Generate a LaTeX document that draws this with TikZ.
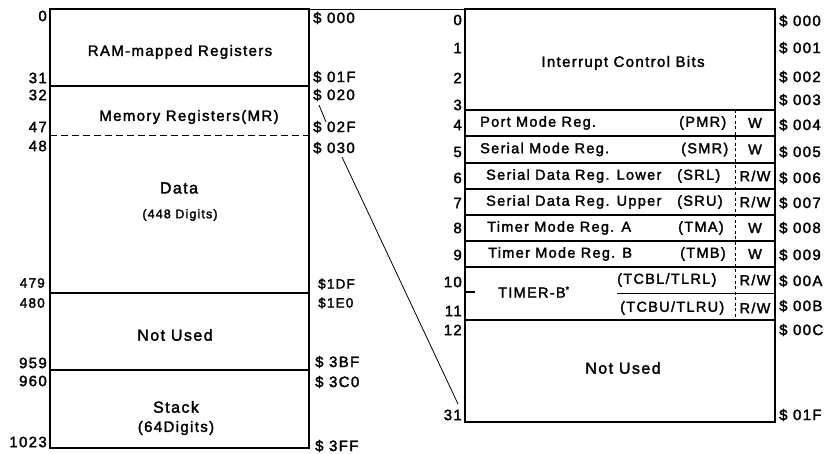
\documentclass[tikz,border=0pt]{standalone}
\usepackage{fontspec}
\setmainfont{Liberation Sans}[LetterSpace=9,FakeBold=2]
\begin{document}
\begin{tikzpicture}[x=1pt,y=-1pt,
  box/.style={line width=2pt},
  sep/.style={line width=2pt},
  conn/.style={line width=0.8pt},
  txt/.style={inner sep=0pt,font=\fontsize{15}{15}\selectfont},
  small/.style={inner sep=0pt,font=\fontsize{12.5}{13}\selectfont},
  idx/.style={txt,anchor=east},
  adr/.style={txt,anchor=west},
  rowlab/.style={inner sep=0pt,font=\fontsize{14.5}{15}\selectfont,anchor=west},
  acc/.style={inner sep=0pt,font=\fontsize{14.5}{15}\selectfont}]
\useasboundingbox (0,0) rectangle (832,454);
% ---------- left box ----------
\coordinate (LTL) at (50,9.5);
\coordinate (LTR) at (309,9.5);
\coordinate (LBR) at (309,448);
\draw[box] (LTL) rectangle (LBR);
\draw[sep] (50,86.5) -- (309,86.5);
\draw[line width=1.4pt,dash pattern=on 7pt off 4pt] (50,135.5) -- (309,135.5);
\draw[sep] (50,293) -- (309,293);
\draw[sep] (50,369.5) -- (309,369.5);
\node[txt] (ram) at (180,52) {RAM-mapped Registers};
\node[txt] (mr) at (189,117) {Memory Registers(MR)};
\node[txt,font=\fontsize{16}{16}\selectfont] (data) at (179,188) {Data};
\node[small] (d448) at (180,215) {(448 Digits)};
\node[txt,font=\fontsize{16}{16}\selectfont] (nu1) at (175,335) {Not Used};
\node[txt,font=\fontsize{16}{16}\selectfont] (stk) at (176,407) {Stack};
\node[txt] (d64) at (176,428) {(64Digits)};
% left indices
\node[idx] (l0) at (47,16) {0};
\node[idx] (l31) at (47,78) {31};
\node[idx] (l32) at (47,95) {32};
\node[idx] (l47) at (47,127) {47};
\node[idx] (l48) at (47,146) {48};
\node[idx,font=\fontsize{13.5}{14}\selectfont] (l479) at (45,283) {479};
\node[idx,font=\fontsize{13.5}{14}\selectfont] (l480) at (45,303) {480};
\node[idx] (l959) at (47,363) {959};
\node[idx] (l960) at (47,381) {960};
\node[idx] (l1023) at (47,442) {1023};
% left addresses
\node[adr] (a000) at (313,18) {\$ 000};
\node[adr] (a01F) at (313,77) {\$ 01F};
\node[adr] (a020) at (313,95) {\$ 020};
\node[adr] (a02F) at (313,127) {\$ 02F};
\node[adr] (a030) at (313,148) {\$ 030};
\node[adr,font=\fontsize{13.5}{14}\selectfont] (a1DF) at (318,284) {\$1DF};
\node[adr,font=\fontsize{13.5}{14}\selectfont] (a1E0) at (318,303) {\$1E0};
\node[adr] (a3BF) at (315,362) {\$ 3BF};
\node[adr] (a3C0) at (315,382) {\$ 3C0};
\node[adr] (a3FF) at (315,446) {\$ 3FF};
% ---------- right box ----------
\coordinate (RTL) at (465,9.5);
\coordinate (RBR) at (775,422);
\draw[box] (RTL) rectangle (RBR);
\foreach \yy in {110,136,163,189.5,215,241,267.5,320}
  \draw[sep] (465,\yy) -- (775,\yy);
\draw[line width=1pt,dash pattern=on 3pt off 2.5pt] (735,110) -- (735,320);
\node[txt] (icb) at (623,63) {Interrupt Control Bits};
\node[rowlab] (pmr) at (480,123) {Port Mode Reg.};
\node[rowlab] (pmra) at (679,123) {(PMR)};
\node[acc] (pmrw) at (755,123) {W};
\node[rowlab] (smr) at (480,149.5) {Serial Mode Reg.};
\node[rowlab] (smra) at (681,149.5) {(SMR)};
\node[acc] (smrw) at (755,149.5) {W};
\node[rowlab] (srl) at (486,176) {Serial Data Reg. Lower};
\node[rowlab] (srla) at (677,176) {(SRL)};
\node[acc] (srlw) at (755,176) {R/W};
\node[rowlab] (sru) at (486,202) {Serial Data Reg. Upper};
\node[rowlab] (srua) at (677,202) {(SRU)};
\node[acc] (sruw) at (755,202) {R/W};
\node[rowlab] (tma) at (487,228) {Timer Mode Reg. A};
\node[rowlab] (tmaa) at (678,228) {(TMA)};
\node[acc] (tmaw) at (755,228) {W};
\node[rowlab] (tmb) at (488,254) {Timer Mode Reg. B};
\node[rowlab] (tmba) at (680,254) {(TMB)};
\node[acc] (tmbw) at (755,254) {W};
% TIMER-B
\coordinate (tbd1) at (466,292);
\coordinate (tbd2) at (475,292);
\draw[line width=1.4pt] (tbd1) -- (tbd2);
\node[rowlab] (tmrb) at (498,292) {TIMER-B\raisebox{5pt}{\fontsize{9}{9}\selectfont *}};
\node[rowlab] (tcbl) at (617,280) {(TCBL/TLRL)};
\node[acc] (tcblw) at (755,280) {R/W};
\coordinate (tsep1) at (617,293.5);
\coordinate (tsep2) at (775,293.5);
\draw[line width=1.4pt] (tsep1) -- (tsep2);
\node[rowlab] (tcbu) at (620,308) {(TCBU/TLRU)};
\node[acc] (tcbuw) at (755,308) {R/W};
\node[txt,font=\fontsize{16}{16}\selectfont] (nu2) at (623,368) {Not Used};
% right indices
\node[idx] (r0) at (462,20) {0};
\node[idx] (r1) at (462,48) {1};
\node[idx] (r2) at (462,78) {2};
\node[idx] (r3) at (462,105) {3};
\node[idx] (r4) at (462,125) {4};
\node[idx] (r5) at (462,152) {5};
\node[idx] (r6) at (462,178) {6};
\node[idx] (r7) at (462,203) {7};
\node[idx] (r8) at (462,228) {8};
\node[idx] (r9) at (462,255) {9};
\node[idx] (r10) at (462,282) {10};
\node[idx] (r11) at (462,311) {11};
\node[idx] (r12) at (462,330) {12};
\node[idx] (r31) at (462,415) {31};
% right addresses
\node[adr] (b000) at (779,21) {\$ 000};
\node[adr] (b001) at (779,48) {\$ 001};
\node[adr] (b002) at (779,77) {\$ 002};
\node[adr] (b003) at (779,100) {\$ 003};
\node[adr] (b004) at (779,125) {\$ 004};
\node[adr] (b005) at (779,152) {\$ 005};
\node[adr] (b006) at (779,178) {\$ 006};
\node[adr] (b007) at (779,203) {\$ 007};
\node[adr] (b008) at (779,228) {\$ 008};
\node[adr] (b009) at (779,255) {\$ 009};
\node[adr] (b00A) at (779,281) {\$ 00A};
\node[adr] (b00B) at (779,306) {\$ 00B};
\node[adr] (b00C) at (779,330) {\$ 00C};
\node[adr] (b01F) at (779,415) {\$ 01F};
% ---------- connectors ----------
\draw[conn] (LTR) -- (RTL);
\coordinate (s1) at (319,105);
\coordinate (s2) at (326,122);
\draw[conn] (s1) -- (s2);
\coordinate (c1) at (342,157);
\coordinate (c2) at (458,404);
\draw[conn] (c1) -- (c2);
\end{tikzpicture}
\end{document}
